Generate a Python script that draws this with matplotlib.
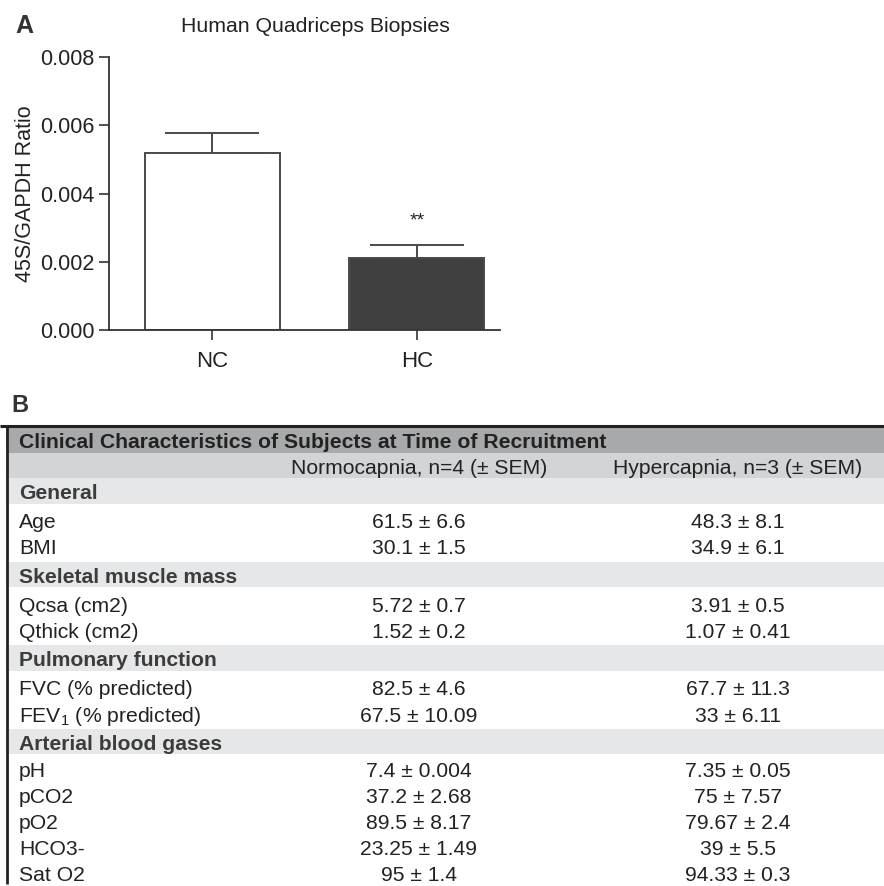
import matplotlib
matplotlib.use("Agg")
import matplotlib.pyplot as plt
from matplotlib.patches import Rectangle

plt.rcParams['font.family'] = ['Liberation Sans', 'DejaVu Sans']
plt.rcParams['mathtext.fontset'] = 'custom'
plt.rcParams['mathtext.rm'] = 'Liberation Sans'

# panel A data
groups = ["NC", "HC"]
means = [0.0052, 0.0021]
sems = [0.00058, 0.0004]
bar_colors = ["white", "#404040"]
yticks = [0.000, 0.002, 0.004, 0.006, 0.008]

# panel B table
col_headers = ["Normocapnia, n=4 (± SEM)", "Hypercapnia, n=3 (± SEM)"]
sections = ["General", "Skeletal muscle mass", "Pulmonary function", "Arterial blood gases"]
row_labels = [
    ["Age", "BMI"],
    ["Qcsa (cm2)", "Qthick (cm2)"],
    ["FVC (% predicted)", "FEV$_1$ (% predicted)"],
    ["pH", "pCO2", "pO2", "HCO3-", "Sat O2"],
]
normo_vals = [
    ["61.5 ± 6.6", "30.1 ± 1.5"],
    ["5.72 ± 0.7", "1.52 ± 0.2"],
    ["82.5 ± 4.6", "67.5 ± 10.09"],
    ["7.4 ± 0.004", "37.2 ± 2.68", "89.5 ± 8.17", "23.25 ± 1.49", "95 ± 1.4"],
]
hyper_vals = [
    ["48.3 ± 8.1", "34.9 ± 6.1"],
    ["3.91 ± 0.5", "1.07 ± 0.41"],
    ["67.7 ± 11.3", "33 ± 6.11"],
    ["7.35 ± 0.05", "75 ± 7.57", "79.67 ± 2.4", "39 ± 5.5", "94.33 ± 0.3"],
]

W, H = 884, 886
fig = plt.figure(figsize=(W / 100, H / 100), dpi=100)

# ---- panel A: bar chart
ax = fig.add_axes([109 / W, 1 - 330 / H, 391 / W, 273 / H])
x = list(range(len(groups)))
ax.bar(x, means, width=0.66, color=bar_colors, edgecolor="#4a4a4a", linewidth=1.4, zorder=2)
ax.errorbar(x, means, yerr=[[0, 0], sems], fmt="none", ecolor="#4a4a4a",
            elinewidth=1.4, capsize=34, capthick=1.4, zorder=1)
ax.text(1, 0.0032, "**", ha="center", va="center", fontsize=14, color="#222222")
ax.set_xlim(-0.506, 1.406)
ax.set_ylim(0, 0.008)
ax.set_yticks(yticks)
ax.set_yticklabels([f"{t:.3f}" for t in yticks])
ax.set_xticks(x)
ax.set_xticklabels(groups)
ax.tick_params(axis="both", labelsize=15.5, colors="#333333", width=1.2, length=7, labelcolor="#222222")
ax.tick_params(axis="x", labelsize=16, pad=8)
for s in ["top", "right"]:
    ax.spines[s].set_visible(False)
for s in ["left", "bottom"]:
    ax.spines[s].set_color("#333333")
    ax.spines[s].set_linewidth(1.3)
ax.set_ylabel("45S/GAPDH Ratio", fontsize=15.5, color="#222222", labelpad=2.5)
fig.text(315 / W, 1 - 26 / H, "Human Quadriceps Biopsies", fontsize=15.3, color="#222222",
         ha="center", va="center")
fig.text(15 / W, 1 - 26 / H, "A", fontsize=18, fontweight="bold", color="#333333", va="center")

# ---- panel B: table drawn in pixel coordinates
tb = fig.add_axes([0, 0, 1, 1])
tb.set_xlim(0, W)
tb.set_ylim(H, 0)
tb.axis("off")
fig.text(11 / W, 1 - 405 / H, "B", fontsize=17, fontweight="bold", color="#333333", va="center")

fs = 15.2
txt = "#222222"
half_cap = 7.5
x_lab, x_c1, x_c2 = 19, 419, 738
top = 426
tb.add_patch(Rectangle((6, top), W, 27, color="#a8a9ab", lw=0))
tb.text(x_lab, 440 + half_cap, "Clinical Characteristics of Subjects at Time of Recruitment",
        fontsize=fs, fontweight="bold", color=txt, va="baseline")
tb.add_patch(Rectangle((6, top + 27), W, 25, color="#d3d4d6", lw=0))
tb.text(x_c1, 466 + half_cap, col_headers[0], fontsize=fs, color=txt, ha="center", va="baseline")
tb.text(x_c2, 466 + half_cap, col_headers[1], fontsize=fs, color=txt, ha="center", va="baseline")

y = top + 52
band, gap = 25.5, 14.5
firsts = [17, 17, 17, 15.5]
pitches = [26.5, 26.5, 26.5, 26]
for k, (sec, labs, v1, v2) in enumerate(zip(sections, row_labels, normo_vals, hyper_vals)):
    tb.add_patch(Rectangle((6, y), W, band, color="#e6e7e8", lw=0))
    tb.text(x_lab, y + band / 2 + 1 + half_cap, sec, fontsize=fs, fontweight="bold",
            color="#3c3c3c", va="baseline")
    y += band + firsts[k]
    for i, (lab, a, b) in enumerate(zip(labs, v1, v2)):
        yy = y + i * pitches[k] + half_cap
        tb.text(x_lab, yy, lab, fontsize=fs, color=txt, va="baseline")
        tb.text(x_c1, yy, a, fontsize=fs, color=txt, ha="center", va="baseline")
        tb.text(x_c2, yy, b, fontsize=fs, color=txt, ha="center", va="baseline")
    y = y + (len(labs) - 1) * pitches[k] + gap

tb.plot([0, W], [top, top], color="#222222", lw=2.2, solid_capstyle="butt")
tb.plot([6.5, 6.5], [top, 884], color="#222222", lw=2.0, solid_capstyle="butt")

fig.savefig("out.png", dpi=100)
